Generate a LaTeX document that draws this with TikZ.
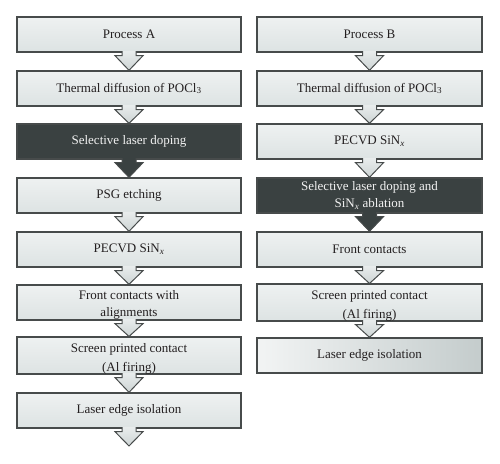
\documentclass[tikz,border=0pt]{standalone}
\usepackage{fontspec}
\setmainfont{Liberation Serif}
\usetikzlibrary{calc}
\definecolor{boxtop}{HTML}{EEF1F1}
\definecolor{boxbot}{HTML}{DDE3E3}
\definecolor{edge}{HTML}{474B4B}
\definecolor{darkfill}{HTML}{3A4141}
\definecolor{txt}{HTML}{231F20}
\definecolor{arrtop}{HTML}{E8ECEC}
\definecolor{arrbot}{HTML}{CDD4D4}
\definecolor{fadeleft}{HTML}{F2F4F4}
\definecolor{faderight}{HTML}{C4CCCC}
\tikzset{
  stepbox/.style={draw=edge, line width=1.3pt, top color=boxtop, bottom color=boxbot,
    minimum height=35pt, inner sep=0pt, align=center, text=txt,
    font=\fontsize{13}{17.5}\selectfont},
  leftbox/.style={stepbox, minimum width=224pt},
  rightbox/.style={stepbox, minimum width=225pt},
  darkbox/.style={fill=darkfill, top color=darkfill, bottom color=darkfill, text=white!90!gray},
  fadebox/.style={left color=fadeleft, right color=faderight},
  arrlight/.style={draw=edge, line width=1pt, top color=arrtop, bottom color=arrbot},
  arrdark/.style={draw=edge, line width=1pt, fill=darkfill}
}
\newcommand{\flowarrow}[3]{%
  \draw[#3] ($(#1.south)+(-7,-1.5)$) -- ($(#1.south)+(-7,3)$) -- ($(#1.south)+(-14,3)$)
    -- (#2) -- ($(#1.south)+(14,3)$) -- ($(#1.south)+(7,3)$) -- ($(#1.south)+(7,-1.5)$);}
\begin{document}
\begin{tikzpicture}[x=1pt,y=-1pt]
\useasboundingbox (0,0) rectangle (500,463);
% left column
\node[leftbox] (a1) at (129,34.5) {Process A};
\node[leftbox] (a2) at (129,88.5) {Thermal diffusion of POCl\textsubscript{3}};
\node[leftbox,darkbox] (a3) at (129,141.5) {Selective laser doping};
\node[leftbox] (a4) at (129,195.5) {PSG etching};
\node[leftbox] (a5) at (129,249.5) {PECVD SiN\textsubscript{\textit{x}}};
\node[leftbox] (a6) at (129,302.5) {\rule{0pt}{14pt}Front contacts with\\alignments};
\node[leftbox] (a7) at (129,355.5) {\rule{0pt}{15pt}Screen printed contact\\[1.5pt](Al firing)};
\node[leftbox] (a8) at (129,410.5) {Laser edge isolation};
\coordinate (aend) at (129,446);
% right column
\node[rightbox] (b1) at (369.5,34.5) {Process B};
\node[rightbox] (b2) at (369.5,88.5) {Thermal diffusion of POCl\textsubscript{3}};
\node[rightbox] (b3) at (369.5,141.5) {PECVD SiN\textsubscript{\textit{x}}};
\node[rightbox,darkbox] (b4) at (369.5,195.5) {Selective laser doping and\\SiN\textsubscript{\textit{x}} ablation};
\node[rightbox] (b5) at (369.5,249.5) {Front contacts};
\node[rightbox] (b6) at (369.5,302.5) {\rule{0pt}{15pt}Screen printed contact\\[1.5pt](Al firing)};
\node[rightbox,fadebox] (b7) at (369.5,355.5) {Laser edge isolation};
% arrows
\flowarrow{a1}{a2.north}{arrlight}
\flowarrow{a2}{a3.north}{arrlight}
\flowarrow{a3}{a4.north}{arrdark}
\flowarrow{a4}{a5.north}{arrlight}
\flowarrow{a5}{a6.north}{arrlight}
\flowarrow{a6}{a7.north}{arrlight}
\flowarrow{a7}{a8.north}{arrlight}
\flowarrow{a8}{aend}{arrlight}
\flowarrow{b1}{b2.north}{arrlight}
\flowarrow{b2}{b3.north}{arrlight}
\flowarrow{b3}{b4.north}{arrlight}
\flowarrow{b4}{b5.north}{arrdark}
\flowarrow{b5}{b6.north}{arrlight}
\flowarrow{b6}{b7.north}{arrlight}
\end{tikzpicture}
\end{document}
